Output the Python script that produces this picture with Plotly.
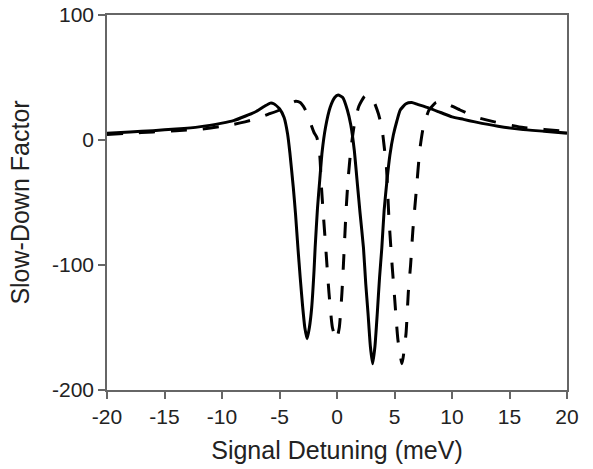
import plotly.graph_objects as go

# Solid curve
solid_x = [-20, -18, -16, -14, -12, -10, -9, -8, -7, -6.3, -5.8, -5.5, -5.0, -4.6, -4.3, -4.1, -3.8, -3.6,
           -3.4, -3.2, -3.0, -2.8, -2.6, -2.4, -2.2, -2.0, -1.9, -1.7, -1.5, -1.3, -1.0, -0.6, -0.2, 0.1,
           0.5, 0.9, 1.2, 1.5, 1.8, 2.0, 2.3, 2.5, 2.7, 2.9, 3.1, 3.3, 3.5, 3.7, 3.9, 4.1, 4.35, 4.6, 4.9,
           5.2, 5.5, 6.0, 6.5, 7.0, 8.0, 9.0, 10.0, 11.0, 12.0, 14.0, 16.0, 18.0, 20.0]
solid_y = [5.5, 6.5, 7.5, 8.8, 10.5, 13.5, 15.5, 19, 23, 27, 29.5, 29, 25, 18, 5, -10, -38, -60,
           -86, -110, -132, -150, -159, -150, -134, -105, -86, -55, -32, -10, 10, 26, 34, 36,
           34, 24, 12, -8, -38, -58, -86, -115, -139, -165, -179, -165, -139, -110, -86, -56, -32, -12, 4,
           15, 24, 29, 30, 28.5, 25.5, 22, 18.5, 16.5, 14.5, 11, 8.5, 7, 5.5]

# Dashed curve
dashed_x = [-20, -18, -16, -14, -12, -10, -9, -8, -7, -6, -5, -4.3, -3.6, -3.2, -2.8, -2.4, -2.0, -1.75,
            -1.5, -1.35, -1.2, -0.95, -0.7, -0.4, -0.05, 0.2, 0.43, 0.6, 0.78, 0.96, 1.2, 1.5, 1.9, 2.4,
            2.8, 3.2, 3.6, 3.9, 4.1, 4.3, 4.5, 4.75, 5.0, 5.3, 5.65, 6.0, 6.2, 6.4, 6.6, 6.9, 7.2, 7.5,
            8.0, 8.6, 9.1, 9.8, 10.7, 12.2, 13.7, 16.2, 18.0, 20.0]
dashed_y = [4.5, 5.5, 6.5, 7.5, 8.5, 11, 12.5, 14.5, 17, 20.5, 24, 28, 31, 30, 25, 16, 6, 2,
            -12, -38, -58, -90, -122, -150, -160, -150, -122, -92, -58, -32, -8, 12, 27, 35,
            36, 31, 21, 10, -5, -22, -60, -95, -125, -160, -179, -155, -122, -100, -72, -40, -8, 10,
            24, 30, 31, 28, 24, 18, 14.5, 10, 8.5, 7]

x_ticks = [-20, -15, -10, -5, 0, 5, 10, 15, 20]
x_tick_labels = ["-20", "-15", "-10", "-5", "0", "5", "10", "15", "20"]
y_ticks = [-200, -100, 0, 100]
y_tick_labels = ["-200", "-100", "0", "100"]

fig = go.Figure()
fig.add_trace(go.Scatter(x=solid_x, y=solid_y, mode="lines",
                         line=dict(color="black", width=3, shape="spline", smoothing=0.5),
                         showlegend=False))
fig.add_trace(go.Scatter(x=dashed_x, y=dashed_y, mode="lines",
                         line=dict(color="black", width=3, dash="16px,16px", shape="spline", smoothing=0.5),
                         showlegend=False))

font_family = "Liberation Sans, Arial, sans-serif"
fig.update_layout(
    width=593, height=469,
    margin=dict(l=107, r=26, t=15, b=79),
    paper_bgcolor="white", plot_bgcolor="white",
    font=dict(family=font_family, color="#222222"),
    xaxis=dict(range=[-20, 20], tickvals=x_ticks, ticktext=x_tick_labels, ticks="outside", ticklen=7,
               tickwidth=1.5, tickcolor="#666666", showline=True, linecolor="#666666", linewidth=1.5,
               mirror=True, showgrid=False, zeroline=False, tickfont=dict(size=21), automargin=False,
               title=dict(text="Signal Detuning (meV)", font=dict(size=25))),
    yaxis=dict(range=[-200, 100], tickvals=y_ticks, ticktext=y_tick_labels, ticks="outside", ticklen=7,
               tickwidth=1.5, tickcolor="#666666", showline=True, linecolor="#666666", linewidth=1.5,
               mirror=True, showgrid=False, zeroline=False, tickfont=dict(size=21), automargin=False,
               title=dict(text="Slow-Down Factor", font=dict(size=25))),
)
fig.write_html("out.html", config={"displayModeBar": False},
               post_script="document.body.style.margin='0';")
